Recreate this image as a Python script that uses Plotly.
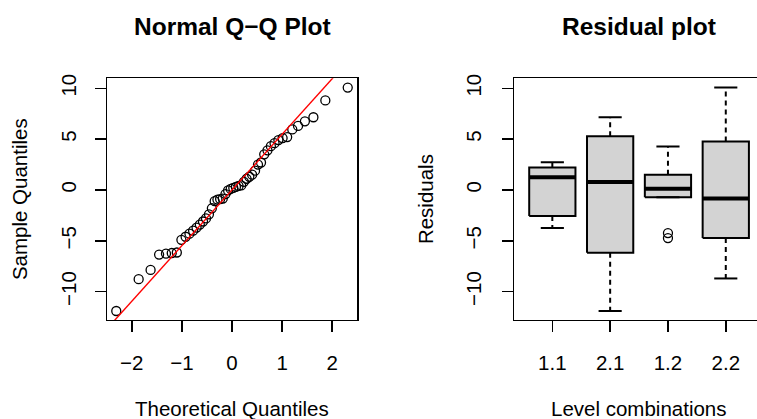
import plotly.graph_objects as go

# ---------------- data ----------------
theoretical_quantiles = [-2.31, -1.863, -1.625, -1.455, -1.318, -1.203, -1.101, -1.010,
                         -0.926, -0.849, -0.776, -0.708, -0.643, -0.579, -0.519, -0.460,
                         -0.402, -0.346, -0.291, -0.237, -0.184, -0.131, -0.078, -0.026,
                         0.026, 0.078, 0.131, 0.184, 0.237, 0.291, 0.346, 0.402,
                         0.460, 0.519, 0.579, 0.643, 0.708, 0.776, 0.849, 0.926,
                         1.010, 1.101, 1.203, 1.318, 1.455, 1.625, 1.863, 2.31]
sample_quantiles = [-11.9, -8.77, -7.86, -6.35, -6.25, -6.2, -6.15, -4.9,
                    -4.6, -4.3, -4.0, -3.7, -3.4, -3.1, -2.8, -2.4,
                    -1.8, -1.1, -0.95, -0.9, -0.85, -0.4, -0.05, 0.1,
                    0.2, 0.3, 0.4, 0.45, 0.8, 1.1, 1.3, 1.5,
                    1.9, 2.5, 2.7, 3.5, 3.9, 4.3, 4.6, 4.9,
                    5.1, 5.2, 5.95, 6.3, 6.75, 7.15, 8.8, 10.07]
qqline_intercept = 0.0
qqline_slope = 5.47

box_labels = ["1.1", "2.1", "1.2", "2.2"]
box_lower_whisker = [-3.75, -11.9, -0.71, -8.7]
box_q1 = [-2.55, -6.18, -0.71, -4.73]
box_median = [1.26, 0.78, 0.13, -0.84]
box_q3 = [2.2, 5.27, 1.49, 4.76]
box_upper_whisker = [2.72, 7.15, 4.27, 10.07]
outlier_group = [3, 3]
outlier_values = [-4.24, -4.73]

y_ticks = [-10, -5, 0, 5, 10]
qq_x_ticks = [-2, -1, 0, 1, 2]

# ---------------- geometry / style ----------------
W, H = 757, 419
Y_RANGE = [-12.78, 10.98]
QQ_X_RANGE = [-2.495, 2.495]
BOX_X_RANGE = [0.337, 4.54]
BOX_HALF = 0.4
CAP_HALF = 0.2
FONT = "Liberation Sans, Arial, sans-serif"

def fx(p):
    return p / W

def fy(p):
    return 1 - p / H

fig = go.Figure()

# QQ points
fig.add_trace(go.Scatter(
    x=theoretical_quantiles, y=sample_quantiles, mode="markers",
    marker=dict(symbol="circle-open", size=9, color="black", line=dict(width=1.3, color="black")),
    xaxis="x", yaxis="y", hoverinfo="skip"))

# QQ reference line
line_x = [QQ_X_RANGE[0], QQ_X_RANGE[1]]
line_y = [qqline_intercept + qqline_slope * v for v in line_x]
fig.add_trace(go.Scatter(x=line_x, y=line_y, mode="lines",
                         line=dict(color="#FF0000", width=1.4),
                         xaxis="x", yaxis="y", hoverinfo="skip"))

positions = list(range(1, len(box_labels) + 1))

# box bodies
for i, pos in enumerate(positions):
    fig.add_trace(go.Scatter(
        x=[pos - BOX_HALF, pos + BOX_HALF, pos + BOX_HALF, pos - BOX_HALF, pos - BOX_HALF],
        y=[box_q1[i], box_q1[i], box_q3[i], box_q3[i], box_q1[i]],
        mode="lines", fill="toself", fillcolor="#D3D3D3",
        line=dict(color="black", width=2), xaxis="x2", yaxis="y2", hoverinfo="skip"))

# whiskers (dashed)
wx, wy = [], []
for i, pos in enumerate(positions):
    wx += [pos, pos, None, pos, pos, None]
    wy += [box_q3[i], box_upper_whisker[i], None, box_q1[i], box_lower_whisker[i], None]
fig.add_trace(go.Scatter(x=wx, y=wy, mode="lines",
                         line=dict(color="black", width=2, dash="5px,4px"),
                         xaxis="x2", yaxis="y2", hoverinfo="skip"))

# caps
cx, cy = [], []
for i, pos in enumerate(positions):
    cx += [pos - CAP_HALF, pos + CAP_HALF, None, pos - CAP_HALF, pos + CAP_HALF, None]
    cy += [box_upper_whisker[i], box_upper_whisker[i], None, box_lower_whisker[i], box_lower_whisker[i], None]
fig.add_trace(go.Scatter(x=cx, y=cy, mode="lines", line=dict(color="black", width=2),
                         xaxis="x2", yaxis="y2", hoverinfo="skip"))

# medians
mx, my = [], []
for i, pos in enumerate(positions):
    mx += [pos - BOX_HALF, pos + BOX_HALF, None]
    my += [box_median[i], box_median[i], None]
fig.add_trace(go.Scatter(x=mx, y=my, mode="lines", line=dict(color="black", width=4),
                         xaxis="x2", yaxis="y2", hoverinfo="skip"))

# outliers
fig.add_trace(go.Scatter(
    x=outlier_group, y=outlier_values, mode="markers",
    marker=dict(symbol="circle-open", size=9, color="black", line=dict(width=1.3, color="black")),
    xaxis="x2", yaxis="y2", hoverinfo="skip"))

axis_common = dict(showgrid=False, zeroline=False, showline=True, linecolor="black",
                   linewidth=1.5, ticks="outside", ticklen=11, tickwidth=1.5,
                   tickcolor="black", tickfont=dict(family=FONT, size=20.5, color="black"),
                   fixedrange=True)

fig.update_layout(
    width=W, height=H, margin=dict(l=0, r=0, t=0, b=0),
    paper_bgcolor="white", plot_bgcolor="white", showlegend=False,
    font=dict(family=FONT, size=20.5, color="black"),
    xaxis=dict(domain=[fx(107), fx(357)], range=QQ_X_RANGE, tickmode="array",
               tickvals=qq_x_ticks, anchor="y", mirror=True, ticklabelstandoff=13,
               **axis_common),
    yaxis=dict(domain=[fy(319), fy(75)], range=Y_RANGE, tickmode="array",
               tickvals=y_ticks, tickangle=-90, anchor="x", mirror=True,
               ticklabelstandoff=10, **axis_common),
    xaxis2=dict(domain=[fx(514), 1.0], range=BOX_X_RANGE, tickmode="array",
                tickvals=positions, ticktext=box_labels, anchor="y2", mirror=True,
                ticklabelstandoff=13, **axis_common),
    yaxis2=dict(domain=[fy(319), fy(75)], range=Y_RANGE, tickmode="array",
                tickvals=y_ticks, tickangle=-90, anchor="x2", mirror=False,
                ticklabelstandoff=12, **axis_common),
)

ann = []
for text, xc in [("<b>Normal Q−Q Plot</b>", 232), ("<b>Residual plot</b>", 639)]:
    ann.append(dict(text=text, x=fx(xc), y=fy(23), xref="paper", yref="paper",
                    xanchor="center", yanchor="middle", showarrow=False,
                    font=dict(family=FONT, size=24.5, color="black")))
for text, xc in [("Theoretical Quantiles", 232), ("Level combinations", 639)]:
    ann.append(dict(text=text, x=fx(xc), y=fy(408), xref="paper", yref="paper",
                    xanchor="center", yanchor="middle", showarrow=False,
                    font=dict(family=FONT, size=20.5, color="black")))
for text, xc in [("Sample Quantiles", 19), ("Residuals", 425)]:
    ann.append(dict(text=text, x=fx(xc), y=fy(197), xref="paper", yref="paper",
                    xanchor="center", yanchor="middle", showarrow=False, textangle=-90,
                    font=dict(family=FONT, size=20.5, color="black")))
fig.update_layout(annotations=ann)

fig.write_html("out.html", config={"displayModeBar": False, "staticPlot": True},
               post_script="document.body.style.margin='0';")
